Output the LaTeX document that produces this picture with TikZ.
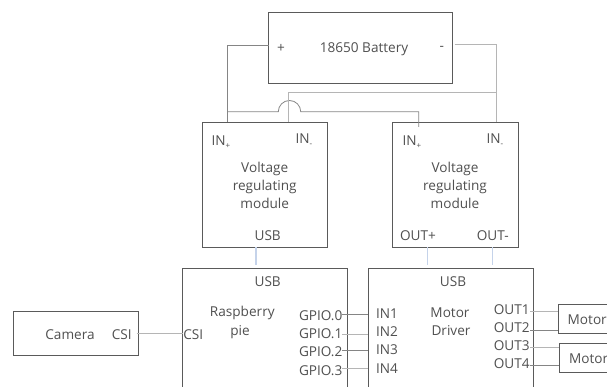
\documentclass[tikz,border=0pt]{standalone}
\usepackage{fontspec}
\setmainfont{Open Sans}[UprightFont=*]
\definecolor{txt}{HTML}{505050}
\definecolor{boxc}{HTML}{5A5A5A}
\definecolor{wire}{HTML}{858585}
\definecolor{wirel}{HTML}{B5B5B5}
\definecolor{bluew}{HTML}{C5D3EA}
\tikzset{
  lab/.style={text=txt,font=\fontsize{13.6}{18}\selectfont,inner sep=0pt,outer sep=0pt,align=center},
  blockbox/.style={draw=boxc,line width=0.9pt,fill=white,inner sep=0pt,outer sep=0pt,anchor=north west},
  dk/.style={draw=wire,line width=0.8pt},
  lt/.style={draw=wirel,line width=1pt},
  bl/.style={draw=bluew,line width=1.2pt}
}
\newcommand{\insub}[1]{IN\raisebox{-3pt}{\fontsize{8}{8}\selectfont #1}}
\begin{document}
\begin{tikzpicture}[x=1pt,y=-1pt]
\useasboundingbox (0,0) rectangle (607,387);
\clip (0,0) rectangle (607,387);
\node[blockbox,minimum width=184pt,minimum height=70.7pt] (batt) at (268.7,12.3) {};
\node[blockbox,minimum width=125.7pt,minimum height=124.7pt] (vra) at (202,122.3) {};
\node[blockbox,minimum width=126pt,minimum height=124.7pt] (vrb) at (392.3,122.3) {};
\node[blockbox,minimum width=164.3pt,minimum height=140pt] (rpi) at (182.7,268.3) {};
\node[blockbox,minimum width=164.7pt,minimum height=140pt] (drv) at (368.3,268.3) {};
\node[blockbox,minimum width=70pt,minimum height=29pt] (mota) at (558.3,304.3) {};
\node[blockbox,minimum width=70pt,minimum height=29.4pt] (motb) at (559.3,343.3) {};
\node[blockbox,minimum width=125pt,minimum height=44.7pt] (cam) at (13.3,311) {};
% text
\node[lab] (tb) at (364,49) {18650 Battery};
\node[lab] (tp) at (281,48) {+};
\node[lab] (tm) at (441.7,48.5) {-};
\node[lab] (ia) at (221,142) {\insub{+}};
\node[lab] (ib) at (304,140) {\insub{-}};
\node[lab] (ic) at (412,142) {\insub{+}};
\node[lab] (id) at (495,140) {\insub{-}};
\node[lab,text width=90pt] (va) at (264.7,185) {Voltage\\regulating\\module};
\node[lab,text width=90pt] (vb) at (455,185) {Voltage\\regulating\\module};
\node[lab] (ua) at (267.7,236) {USB};
\node[lab] (op) at (418,236) {OUT+};
\node[lab] (om) at (492.7,236) {OUT-};
\node[lab] (ub) at (267.7,281.7) {USB};
\node[lab] (uc) at (453,281.7) {USB};
\node[lab] (tcam) at (70,334.7) {Camera};
\node[lab] (csia) at (121.7,334.7) {CSI};
\node[lab] (csib) at (193.3,334.7) {CSI};
\node[lab] (ra) at (242.3,313.3) {Raspberry};
\node[lab] (rb) at (240,332.3) {pie};
\node[lab] (g0) at (320.7,316) {GPIO.0};
\node[lab] (g1) at (320.7,334) {GPIO.1};
\node[lab] (g2) at (320.7,352) {GPIO.2};
\node[lab] (g3) at (320.7,371) {GPIO.3};
\node[lab] (i1) at (387,313.3) {IN1};
\node[lab] (i2) at (387,331.7) {IN2};
\node[lab] (i3) at (387,350) {IN3};
\node[lab] (i4) at (387,368.3) {IN4};
\node[lab] (ma) at (450,312.7) {Motor};
\node[lab] (mb) at (451,331) {Driver};
\node[lab] (o1) at (511.7,309.3) {OUT1};
\node[lab] (o2) at (511.7,327.3) {OUT2};
\node[lab] (o3) at (511.7,345.7) {OUT3};
\node[lab] (o4) at (511.7,364) {OUT4};
\node[lab,anchor=west] (tma) at (567.7,319.3) {Motor};
\node[lab,anchor=west] (tmb) at (569,358.3) {Motor};
% junction coordinates
\coordinate (ba) at (227.3,45);
\coordinate (bb) at (496,45);
\coordinate (bc) at (288.3,93);
\coordinate (bd) at (496,93);
\coordinate (ha) at (278.3,111.7);
\coordinate (hb) at (300.7,111.7);
\coordinate (he) at (418.7,111.7);
\coordinate (hf) at (418.7,127);
\coordinate (usba) at (256,247);
\coordinate (usbb) at (256,265);
\coordinate (oa) at (427.7,247);
\coordinate (ob) at (427.7,265);
\coordinate (oc) at (492.7,247);
\coordinate (od) at (492.7,265);
\coordinate (csl) at (136.7,333.7);
\coordinate (gx) at (342,0);
\coordinate (ox) at (530,0);
% wires
\draw[dk] (batt.west |- ba) -- (ba) -- (ba |- vra.north);
\draw[dk] (ba |- ha) -- (ha) arc[start angle=180,end angle=0,radius=11.2pt] -- (hb) -- (he) -- (hf);
\draw[lt] (batt.east |- bb) ++(2,0) -- (bb) -- (bb |- vrb.north);
\draw[lt] (bd) -- (bc) -- (bc |- vra.north);
\draw[bl] (usba) -- (usbb);
\draw[bl] (oa) -- (ob);
\draw[bl] (oc) -- (od);
\draw[lt] (csl) -- (csl -| rpi.west);
\draw[dk] (gx |- 0,314) -- (drv.west |- 0,314);
\draw[lt] (gx |- 0,334.3) -- (drv.west |- 0,334.3);
\draw[dk] (gx |- 0,350.7) -- (drv.west |- 0,350.7);
\draw[lt] (gx |- 0,368.7) -- (drv.west |- 0,368.7);
\draw[lt] (ox |- 0,311) -- (mota.west |- 0,311);
\draw[dk] (ox |- 0,330) -- (mota.west |- 0,330);
\draw[lt] (ox |- 0,347.3) -- (motb.west |- 0,347.3);
\draw[dk] (ox |- 0,365.7) -- (motb.west |- 0,365.7);
\end{tikzpicture}
\end{document}
